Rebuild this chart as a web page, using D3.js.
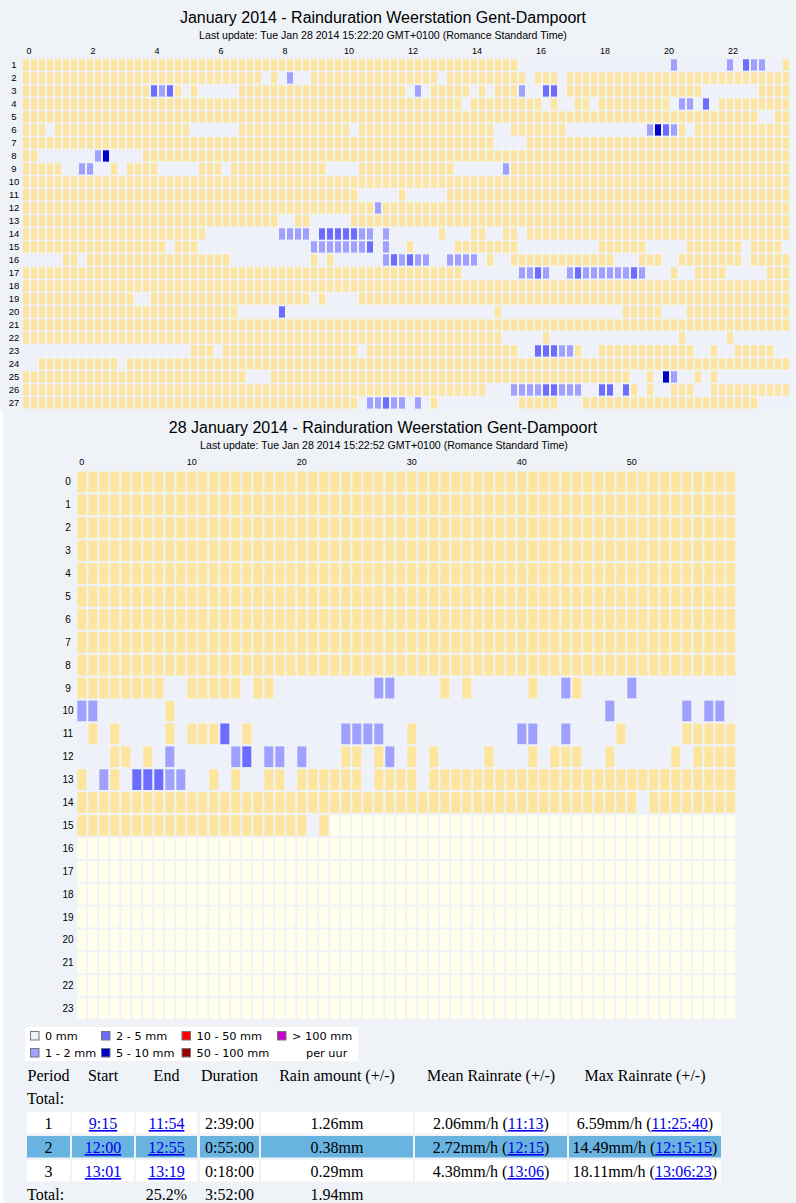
<!DOCTYPE html>
<html>
<head>
<meta charset="utf-8">
<script src="https://cdn.jsdelivr.net/npm/d3@7"></script>
<style>
  html, body { margin: 0; padding: 0; background: #fff; }
  svg { display: block; }
  .sans { font-family: "Liberation Sans", Arial, sans-serif; fill: #000; }
  .legend { font-family: "DejaVu Sans", Verdana, sans-serif; font-size: 11.3px; fill: #000; }
  .tbl { font-family: "Liberation Serif", "Times New Roman", serif; font-size: 16px; fill: #000; }
  .link { fill: #0000ee; text-decoration: underline; }
</style>
</head>
<body>
<div id="chart"></div>
<script>
// cell codes: Y = dry, . = no registration, b = 1-2 mm, m = 2-5 mm, d = 5-10 mm, w = not yet
// each row is run-length coded: "<count><code>"

// January 2014, one row per day, 96 quarter hours
const monthDays = [1, 2, 3, 4, 5, 6, 7, 8, 9, 10, 11, 12, 13, 14, 15, 16, 17, 18, 19, 20, 21, 22, 23, 24, 25, 26, 27];
const monthHourTicks = [0, 2, 4, 6, 8, 10, 12, 14, 16, 18, 20, 22];
const monthRows = [
  "62Y 19. 1b 6. 1b 1. 1m 2b 2. 1Y",
  "30Y 1. 1Y 1. 1b 2. 16Y 1. 10Y 1. 3Y 1. 28Y",
  "16Y 1m 1b 1m 1Y 1. 1Y 5. 21Y 1. 1b 1. 5Y 1. 1Y 1. 3Y 1b 2. 2m 1. 17Y 7. 4Y",
  "55Y 1. 9Y 1. 1Y 2. 2Y 1. 9Y 1. 2b 1. 1m 1. 9Y",
  "92Y 2. 2Y",
  "3Y 1. 17Y 6. 14Y 1. 17Y 2. 7Y 10. 1b 1d 1m 1b 1Y 1. 12Y",
  "59Y 4. 33Y",
  "2Y 7. 1b 1d 4. 81Y",
  "5Y 2. 2b 2. 1Y 1. 4Y 5. 3Y 1. 12Y 4. 12Y 6. 1b 35Y",
  "96Y",
  "42Y 5. 1Y 5. 43Y",
  "44Y 1b 51Y",
  "32Y 2. 2Y 5. 55Y",
  "23Y 9. 4b 1. 5m 2b 1. 1b 6. 1Y 3. 2Y 2. 2Y 1. 33Y",
  "18Y 1. 3Y 14. 7b 1m 1. 1b 2. 1Y 5. 8Y 10. 6Y 5. 7Y 1. 4Y 1.",
  "5. 2Y 1. 18Y 10. 1Y 1. 1Y 6. 1b 1m 1b 1m 2b 2. 4b 1. 1Y 2. 13Y 3. 3Y 2. 8Y 1. 5Y",
  "55Y 7. 2b 1m 1b 2. 1b 1m 6b 1m 1b 3. 1Y 2. 4Y 5. 3Y",
  "96Y",
  "14Y 2. 20Y 1. 1Y 4. 54Y",
  "27Y 5. 1m 26. 1Y 15. 5Y 3. 13Y",
  "96Y",
  "60Y 5. 1Y 16. 1Y 5. 1Y 7.",
  "21. 3Y 1. 17Y 1. 19Y 2. 3m 2b 1Y 2. 12Y 2. 1Y 2. 5Y 2.",
  "2. 10Y 1. 83Y",
  "28Y 3. 45Y 2. 1Y 1. 1d 1b 2. 1Y 1. 1Y 9.",
  "58Y 3. 4b 2m 3b 2. 2m 1. 1m 1Y 1. 1Y 2. 3Y 2. 10Y",
  "42Y 1. 2b 1m 2b 1. 1b 1. 1Y 10. 5Y 3. 22Y 4."
];

// 28 January 2014, one row per hour, 60 minutes
const dayHours = [0, 1, 2, 3, 4, 5, 6, 7, 8, 9, 10, 11, 12, 13, 14, 15, 16, 17, 18, 19, 20, 21, 22, 23];
const dayMinuteTicks = [0, 10, 20, 30, 40, 50];
const dayRows = [
  "60Y", "60Y", "60Y", "60Y", "60Y", "60Y", "60Y", "60Y", "60Y",
  "8Y 2. 5Y 1. 2Y 9. 2b 4. 1Y 1. 1Y 5. 1Y 2. 1b 1Y 4. 1b 9.",
  "2b 6. 1Y 39. 1b 6. 1b 1. 2b 1.",
  "1. 1Y 1. 1Y 4. 1Y 1. 3Y 1m 1. 1Y 8. 4b 2. 1Y 9. 2b 2. 1b 4. 1Y 5. 5Y",
  "3. 2Y 1. 1Y 1. 1b 5. 1b 1m 1. 2b 1. 1b 3. 2Y 1. 1Y 1b 1. 1Y 1. 1Y 4. 1Y 3. 1Y 1. 3Y 2. 1Y 5. 1Y 1. 4Y",
  "1Y 1. 1b 1Y 1. 3m 2b 2. 1Y 1. 1Y 2. 2Y 1. 6Y 1. 4Y 1. 28Y",
  "51Y 1. 8Y",
  "21Y 1. 1Y 37w",
  "60w", "60w", "60w", "60w", "60w", "60w", "60w", "60w"
];

// legend
const legendLabels = ["0 mm", "1 - 2 mm", "2 - 5 mm", "5 - 10 mm", "10 - 50 mm", "50 - 100 mm", "> 100 mm"];
const legendColors = ["#eef0fa", "#a0a0ff", "#6c6cff", "#0000cc", "#ff0000", "#990000", "#cc00cc"];

// rain periods table
const tableHeaders = ["Period", "Start", "End", "Duration", "Rain amount (+/-)", "Mean Rainrate (+/-)", "Max Rainrate (+/-)"];
const periods = ["1", "2", "3"];
const starts = ["9:15", "12:00", "13:01"];
const ends = ["11:54", "12:55", "13:19"];
const durations = ["2:39:00", "0:55:00", "0:18:00"];
const amounts = ["1.26mm", "0.38mm", "0.29mm"];
const meanRates = ["2.06mm/h", "2.72mm/h", "4.38mm/h"];
const meanTimes = ["11:13", "12:15", "13:06"];
const maxRates = ["6.59mm/h", "14.49mm/h", "18.11mm/h"];
const maxTimes = ["11:25:40", "12:15:15", "13:06:23"];
const totalPercent = "25.2%";
const totalDuration = "3:52:00";
const totalAmount = "1.94mm";

const cellColor = { "Y": "#fde5a0", ".": "#eef0fa", "b": "#a0a0ff", "m": "#6c6cff", "d": "#0000cc", "w": "#ffffeb" };

function expand(runs) {
  const out = [];
  runs.split(" ").forEach(function(tok) {
    const n = +tok.slice(0, -1), c = tok.slice(-1);
    for (let i = 0; i < n; i++) out.push(c);
  });
  return out;
}

const W = 796, H = 1203;
const svg = d3.select("#chart").append("svg")
    .attr("width", W)
    .attr("height", H);

svg.append("rect").attr("width", W).attr("height", H).attr("fill", "#eff3f8");
svg.append("rect").attr("x", 0).attr("y", 412).attr("width", 3).attr("height", H - 412).attr("fill", "#fff");

// ---------- month grid ----------
const monthCells = [];
monthRows.forEach(function(r, i) {
  expand(r).forEach(function(c, q) { monthCells.push({ day: monthDays[i], q: q, code: c }); });
});

const xMonth = d3.scaleBand().domain(d3.range(96)).range([23, 789]).paddingInner(0.25);
const yMonth = d3.scaleBand().domain(monthDays).range([59.3, 408.6]).paddingInner(0.13);

svg.append("text").attr("class", "sans")
    .attr("x", 383).attr("y", 23)
    .attr("text-anchor", "middle").style("font-size", "16px")
    .text("January 2014 - Rainduration Weerstation Gent-Dampoort");
svg.append("text").attr("class", "sans")
    .attr("x", 383).attr("y", 38.5)
    .attr("text-anchor", "middle").style("font-size", "10.6px")
    .text("Last update: Tue Jan 28 2014 15:22:20 GMT+0100 (Romance Standard Time)");

svg.append("g").selectAll("rect")
    .data(monthCells)
    .enter().append("rect")
    .attr("x", function(d) { return xMonth(d.q); })
    .attr("y", function(d) { return yMonth(d.day); })
    .attr("width", xMonth.bandwidth())
    .attr("height", yMonth.bandwidth())
    .attr("fill", function(d) { return cellColor[d.code]; });

svg.append("g").selectAll("text")
    .data(monthHourTicks)
    .enter().append("text").attr("class", "sans")
    .attr("x", function(d) { return xMonth(d * 4) + 6; })
    .attr("y", 54)
    .attr("text-anchor", "middle")
    .style("font-size", "9px")
    .text(function(d) { return d; });

svg.append("g").selectAll("text")
    .data(monthDays)
    .enter().append("text").attr("class", "sans")
    .attr("x", 14)
    .attr("y", function(d) { return yMonth(d) + yMonth.bandwidth() / 2; })
    .attr("dy", "0.35em")
    .attr("text-anchor", "middle")
    .style("font-size", "9.5px")
    .text(function(d) { return d; });

// ---------- day grid ----------
const dayCells = [];
dayRows.forEach(function(r, i) {
  expand(r).forEach(function(c, m) { dayCells.push({ hour: dayHours[i], minute: m, code: c }); });
});

const xDay = d3.scaleBand().domain(d3.range(60)).range([77.3, 735.3]).paddingInner(2 / 11);
const yDay = d3.scaleBand().domain(dayHours).range([471.6, 1019]).paddingInner(0.096);

svg.append("text").attr("class", "sans")
    .attr("x", 383).attr("y", 433)
    .attr("text-anchor", "middle").style("font-size", "16px")
    .text("28 January 2014 - Rainduration Weerstation Gent-Dampoort");
svg.append("text").attr("class", "sans")
    .attr("x", 384).attr("y", 448.5)
    .attr("text-anchor", "middle").style("font-size", "10.6px")
    .text("Last update: Tue Jan 28 2014 15:22:52 GMT+0100 (Romance Standard Time)");

svg.append("g").selectAll("rect")
    .data(dayCells)
    .enter().append("rect")
    .attr("x", function(d) { return xDay(d.minute); })
    .attr("y", function(d) { return yDay(d.hour); })
    .attr("width", xDay.bandwidth())
    .attr("height", yDay.bandwidth())
    .attr("fill", function(d) { return cellColor[d.code]; });

svg.append("g").selectAll("text")
    .data(dayMinuteTicks)
    .enter().append("text").attr("class", "sans")
    .attr("x", function(d) { return xDay(d) + xDay.bandwidth() / 2; })
    .attr("y", 465)
    .attr("text-anchor", "middle")
    .style("font-size", "9px")
    .text(function(d) { return d; });

svg.append("g").selectAll("text")
    .data(dayHours)
    .enter().append("text").attr("class", "sans")
    .attr("x", 68)
    .attr("y", function(d) { return yDay(d) + yDay.bandwidth() / 2; })
    .attr("dy", "0.35em")
    .attr("text-anchor", "middle")
    .style("font-size", "10px")
    .text(function(d) { return d; });

// ---------- legend ----------
const legendCol = [30, 30, 101, 101, 181.5, 181.5, 277];
const legendRow = [0, 1, 0, 1, 0, 1, 0];
const lg = svg.append("g").attr("transform", "translate(0,1027)");
lg.append("rect").attr("x", 25).attr("y", 0).attr("width", 333).attr("height", 34).attr("fill", "#fff");
const items = lg.selectAll("g.item")
    .data(legendLabels)
    .enter().append("g").attr("class", "item")
    .attr("transform", function(d, i) { return "translate(" + legendCol[i] + "," + (4 + legendRow[i] * 17) + ")"; });
items.append("rect")
    .attr("x", 0.5).attr("y", 0.5).attr("width", 8.5).attr("height", 8.5)
    .attr("fill", function(d, i) { return legendColors[i]; })
    .attr("stroke", "#777").attr("stroke-width", 1);
items.append("text").attr("class", "legend")
    .attr("x", 15).attr("y", 9)
    .text(function(d) { return d; });
lg.append("text").attr("class", "legend").attr("x", 306).attr("y", 30).text("per uur");

// ---------- table ----------
const colX = [27, 72, 136, 200, 261, 415, 569];
const colW = [43, 62, 61, 59, 152, 152, 152];
const colC = colX.map(function(x, i) { return x + colW[i] / 2; });

const tbl = svg.append("g").attr("class", "tbl");
tbl.selectAll("text.hdr")
    .data(tableHeaders)
    .enter().append("text").attr("class", "tbl hdr")
    .attr("x", function(d, i) { return colC[i]; })
    .attr("y", 1080.5)
    .attr("text-anchor", "middle")
    .text(function(d) { return d; });
tbl.append("text").attr("class", "tbl").attr("x", 27).attr("y", 1104).text("Total:");

const rows = periods.map(function(p, i) {
  return [
    [{ t: p }],
    [{ t: starts[i], link: true }],
    [{ t: ends[i], link: true }],
    [{ t: durations[i] }],
    [{ t: amounts[i] }],
    [{ t: meanRates[i] + " (" }, { t: meanTimes[i], link: true }, { t: ")" }],
    [{ t: maxRates[i] + " (" }, { t: maxTimes[i], link: true }, { t: ")" }]
  ];
});

const rowG = tbl.selectAll("g.row")
    .data(rows)
    .enter().append("g").attr("class", "row")
    .attr("transform", function(d, i) { return "translate(0," + (1112 + i * 24) + ")"; });

rowG.selectAll("rect")
    .data(function(d, i) { return d.map(function() { return i; }); })
    .enter().append("rect")
    .attr("x", function(d, j) { return colX[j]; })
    .attr("width", function(d, j) { return colW[j]; })
    .attr("height", 21.5)
    .attr("fill", function(d) { return d === 1 ? "#69b3e0" : "#fff"; });

rowG.selectAll("text")
    .data(function(d) { return d; })
    .enter().append("text").attr("class", "tbl")
    .attr("x", function(d, j) { return colC[j]; })
    .attr("y", 17)
    .attr("text-anchor", "middle")
    .each(function(segs) {
      const t = d3.select(this);
      segs.forEach(function(s) {
        t.append("tspan").attr("class", s.link ? "link" : null).text(s.t);
      });
    });

tbl.append("text").attr("class", "tbl").attr("x", 27).attr("y", 1200).text("Total:");
tbl.append("text").attr("class", "tbl").attr("x", colC[2]).attr("y", 1200).attr("text-anchor", "middle").text(totalPercent);
tbl.append("text").attr("class", "tbl").attr("x", colC[3]).attr("y", 1200).attr("text-anchor", "middle").text(totalDuration);
tbl.append("text").attr("class", "tbl").attr("x", colC[4]).attr("y", 1200).attr("text-anchor", "middle").text(totalAmount);
</script>
</body>
</html>
